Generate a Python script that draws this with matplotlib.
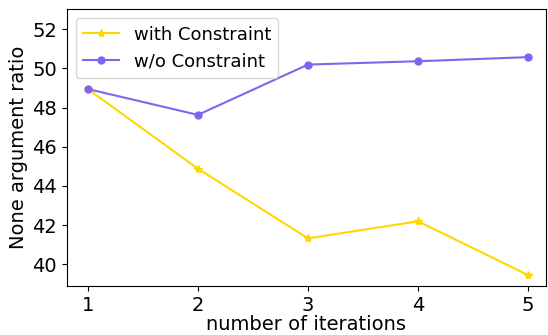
import matplotlib
matplotlib.use("Agg")
import matplotlib.pyplot as plt

iterations = [1, 2, 3, 4, 5]
with_constraint = [48.95, 44.88, 41.32, 42.19, 39.44]
without_constraint = [48.95, 47.63, 50.20, 50.37, 50.58]

fig, ax = plt.subplots(figsize=(5.48, 3.35), dpi=100)
ax.plot(iterations, with_constraint, color="gold", marker="*", markersize=6, label="with Constraint")
ax.plot(iterations, without_constraint, color="mediumslateblue", marker="o", markersize=5, label="w/o Constraint")
ax.set_xticks(iterations)
ax.set_ylim(38.88, 53.02)
ax.set_xlim(0.81, 5.16)
ax.set_yticks([40, 42, 44, 46, 48, 50, 52])
ax.tick_params(labelsize=14)
ax.set_xlabel("number of iterations", fontsize=14, labelpad=0)
ax.set_ylabel("None argument ratio", fontsize=14, labelpad=3)
ax.legend(fontsize=13, loc="upper left")
fig.subplots_adjust(left=0.122, right=0.996, top=0.972, bottom=0.146)
fig.savefig("out.png", dpi=100)
